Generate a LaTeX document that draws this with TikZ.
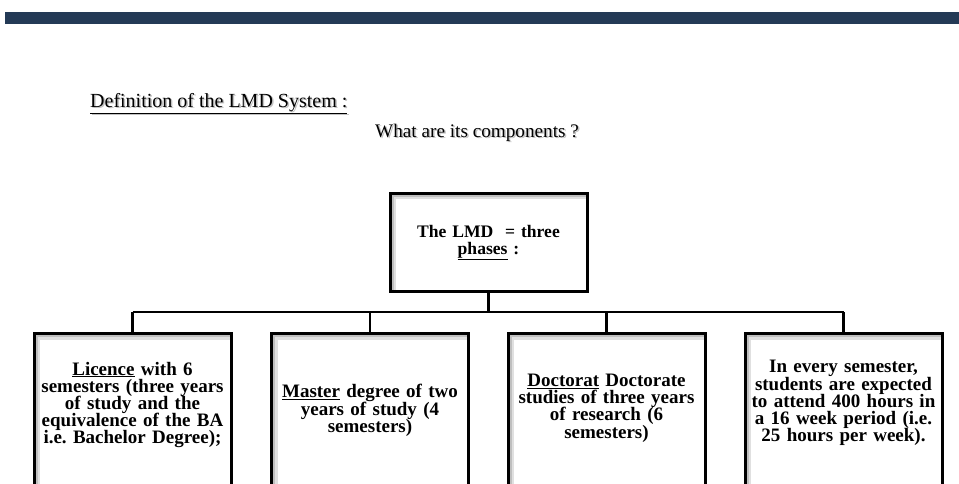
\documentclass[tikz,border=0pt]{standalone}
\usepackage{fontspec}
\setmainfont{Liberation Serif}
\usetikzlibrary{shadows}
\definecolor{barblue}{HTML}{243A56}
\frenchspacing
\newcommand{\tightlines}{\lineskiplimit=-30pt\lineskip=0pt}
\tikzset{
  panel/.style={draw=black, line width=3pt, fill=white,
    drop shadow={opacity=0.25, shadow xshift=1.5pt, shadow yshift=-1.5pt},
    path picture={
      \draw[black!12, line width=12pt] (path picture bounding box.south west) -- (path picture bounding box.north west) -- (path picture bounding box.north east);
      \draw[black!25, line width=7pt] (path picture bounding box.south west) -- (path picture bounding box.north west) -- (path picture bounding box.north east);
    }},
  boxtext/.style={align=center, text width=196pt, inner sep=0pt,
    font=\bfseries\fontsize{19}{17.2}\selectfont\tightlines},
  link/.style={draw=black, line width=2.5pt},
  heading/.style={anchor=base west, inner sep=0pt, font=\fontsize{20}{24}\selectfont},
  headshadow/.style={text=black!35, opacity=0.7}
}
\begin{document}
\begin{tikzpicture}[x=1pt,y=-1pt]
\useasboundingbox (0,0) rectangle (959,483);
\clip (0,0) rectangle (959,483);

% banner along the top
\fill[barblue] (5,12) rectangle (960,24);

% headings with a soft shadow
\node[heading, headshadow] (titlesh) at (91.5,108.5) {\underline{Definition of the LMD System :}};
\node[heading] (title) at (90,107) {\underline{Definition of the LMD System :}};
\node[heading, headshadow, font=\fontsize{19.2}{24}\selectfont] (asksh) at (376.5,138.5) {What are its components ?};
\node[heading, font=\fontsize{19.2}{24}\selectfont] (ask) at (375,137) {What are its components ?};

% root box
\node[panel, minimum width=197pt, minimum height=98pt, inner sep=0pt] (lmd) at (488.5,242) {};
\node[boxtext, text width=185pt, font=\bfseries\fontsize{17.6}{16.5}\selectfont\tightlines] (lmdt) at (488.5,243) {The LMD\ \ = three\\\underline{phases} :};

% four boxes running past the lower edge
\node[panel, minimum width=197pt, minimum height=170pt, anchor=north] (b1) at (132.5,332) {};
\node[panel, minimum width=197pt, minimum height=170pt, anchor=north] (b2) at (370,332) {};
\node[panel, minimum width=197pt, minimum height=170pt, anchor=north] (b3) at (606.5,332) {};
\node[panel, minimum width=197pt, minimum height=170pt, anchor=north] (b4) at (843.5,332) {};

\node[boxtext] (t1) at (132.5,405) {\underline{Licence} with 6\\semesters (three years\\of study and the\\equivalence of the BA\\i.e. Bachelor Degree);};
\node[boxtext] (t2) at (370,410.5) {\underline{Master} degree of two\\years of study (4\\semesters)};
\node[boxtext] (t3) at (606.5,408) {\underline{Doctorat} Doctorate\\studies of three years\\of research (6\\semesters)};
\node[boxtext] (t4) at (843.5,403) {In every semester,\\students are expected\\to attend 400 hours in\\a 16 week period (i.e.\\25 hours per week).};

% connectors
\coordinate (bus) at (488.5,312);
\draw[link] (lmd.south) -- (bus);
\draw[link] (b1.north |- bus) -- (b4.north |- bus);
\foreach \b in {b1,b2,b3,b4}
  \draw[link] (\b.north |- bus) -- (\b.north);
\end{tikzpicture}
\end{document}
